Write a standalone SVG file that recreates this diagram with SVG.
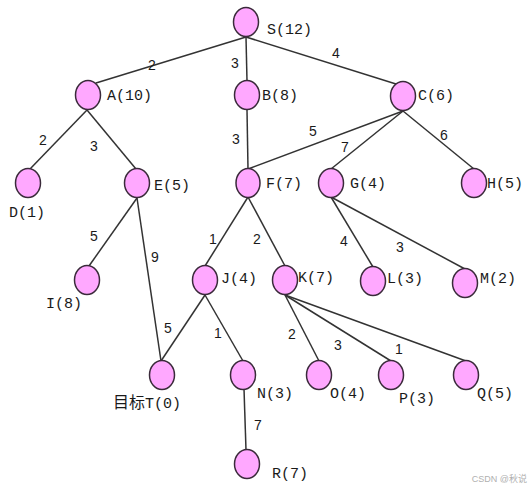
<svg xmlns="http://www.w3.org/2000/svg" width="531" height="485" viewBox="0 0 531 485">
<style>
.n ellipse{fill:#ffa8ff;stroke:#3a2a3a;stroke-width:1.5}
.n text{font-family:"Liberation Mono",monospace;font-size:15px;fill:#1a1a1a}
#edges line{stroke:#333;stroke-width:1.5}
#edges text{font-family:"Liberation Sans",Arial,sans-serif;font-size:14px;fill:#1a1a1a;text-anchor:middle}
.wm{font-family:"Liberation Sans","Noto Sans CJK SC",sans-serif;font-size:9px;fill:#b0b0b0;text-anchor:end}
</style>
<rect width="531" height="485" fill="#fff"/>
<g id="edges">
<line x1="246" y1="37" x2="96" y2="83"/>
<line x1="246" y1="37" x2="247" y2="81"/>
<line x1="246" y1="37" x2="396" y2="84"/>
<line x1="87" y1="110" x2="30" y2="169"/>
<line x1="87" y1="110" x2="136" y2="169"/>
<line x1="247" y1="110" x2="248" y2="169"/>
<line x1="403" y1="111" x2="248" y2="169"/>
<line x1="403" y1="111" x2="331" y2="169"/>
<line x1="403" y1="111" x2="474" y2="169"/>
<line x1="137" y1="198" x2="89" y2="266"/>
<line x1="137" y1="198" x2="161" y2="361"/>
<line x1="248" y1="197" x2="205" y2="266"/>
<line x1="248" y1="197" x2="285" y2="266"/>
<line x1="331" y1="197" x2="373" y2="267"/>
<line x1="331" y1="197" x2="465" y2="269"/>
<line x1="205" y1="295" x2="161" y2="361"/>
<line x1="205" y1="295" x2="243" y2="361"/>
<line x1="285" y1="295" x2="319" y2="361"/>
<line x1="285" y1="295" x2="391" y2="361"/>
<line x1="285" y1="295" x2="466" y2="361"/>
<line x1="244" y1="389" x2="246" y2="450"/>
<text x="152" y="70">2</text>
<text x="235" y="68">3</text>
<text x="336" y="58">4</text>
<text x="43" y="145">2</text>
<text x="94" y="151">3</text>
<text x="236" y="144">3</text>
<text x="313" y="136">5</text>
<text x="345" y="152">7</text>
<text x="444" y="140">6</text>
<text x="94" y="241">5</text>
<text x="155" y="262">9</text>
<text x="213" y="244">1</text>
<text x="257" y="244">2</text>
<text x="344" y="246">4</text>
<text x="400" y="252">3</text>
<text x="168" y="333">5</text>
<text x="218" y="338">1</text>
<text x="292" y="339">2</text>
<text x="338" y="350">3</text>
<text x="399" y="354">1</text>
<text x="258" y="430">7</text>
</g>
<g id="S" class="n"><ellipse cx="246" cy="22" rx="12.5" ry="14.5"/><text x="267" y="34">S(12)</text></g>
<g id="A" class="n"><ellipse cx="88" cy="95" rx="12.5" ry="14.5"/><text x="107" y="100">A(10)</text></g>
<g id="B" class="n"><ellipse cx="247" cy="95" rx="12.5" ry="14.5"/><text x="262" y="100">B(8)</text></g>
<g id="C" class="n"><ellipse cx="403" cy="96" rx="12.5" ry="14.5"/><text x="418" y="100">C(6)</text></g>
<g id="D" class="n"><ellipse cx="28" cy="183" rx="12.5" ry="14.5"/><text x="9" y="217">D(1)</text></g>
<g id="E" class="n"><ellipse cx="137" cy="183" rx="12.5" ry="14.5"/><text x="154" y="190">E(5)</text></g>
<g id="F" class="n"><ellipse cx="248" cy="183" rx="12" ry="14.5"/><text x="266" y="188">F(7)</text></g>
<g id="G" class="n"><ellipse cx="331" cy="183" rx="12.5" ry="14.5"/><text x="350" y="188">G(4)</text></g>
<g id="H" class="n"><ellipse cx="474" cy="183" rx="12.5" ry="14.5"/><text x="487" y="188">H(5)</text></g>
<g id="I" class="n"><ellipse cx="87" cy="280" rx="12.5" ry="14.5"/><text x="46" y="308">I(8)</text></g>
<g id="J" class="n"><ellipse cx="205" cy="280" rx="12.5" ry="14.5"/><text x="221" y="283">J(4)</text></g>
<g id="K" class="n"><ellipse cx="285" cy="280" rx="12.5" ry="14.5"/><text x="298" y="282">K(7)</text></g>
<g id="L" class="n"><ellipse cx="373" cy="281" rx="12.5" ry="14.5"/><text x="387" y="283">L(3)</text></g>
<g id="M" class="n"><ellipse cx="465" cy="283" rx="12.5" ry="14.5"/><text x="480" y="283">M(2)</text></g>
<g id="T" class="n"><ellipse cx="162" cy="375" rx="12.5" ry="14.5"/><text x="113" y="408"><tspan font-family="'Noto Sans CJK SC',sans-serif" font-size="16">目标</tspan>T(0)</text></g>
<g id="N" class="n"><ellipse cx="243" cy="375" rx="12.5" ry="14.5"/><text x="257" y="398">N(3)</text></g>
<g id="O" class="n"><ellipse cx="319" cy="375" rx="12.5" ry="14.5"/><text x="330" y="398">O(4)</text></g>
<g id="P" class="n"><ellipse cx="391" cy="375" rx="12.5" ry="14.5"/><text x="399" y="403">P(3)</text></g>
<g id="Q" class="n"><ellipse cx="466" cy="375" rx="12.5" ry="14.5"/><text x="477" y="398">Q(5)</text></g>
<g id="R" class="n"><ellipse cx="247" cy="464" rx="12.5" ry="14.5"/><text x="272" y="478">R(7)</text></g>
<text class="wm" x="527" y="482">CSDN @秋说</text>
</svg>
